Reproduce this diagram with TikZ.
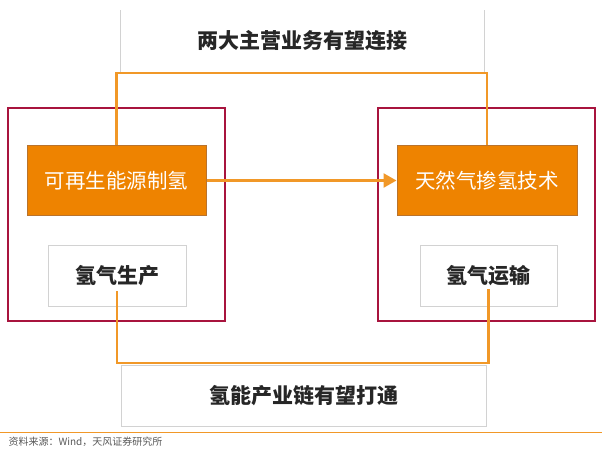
\documentclass[tikz,border=0pt]{standalone}
\usepackage{fontspec}
\setmainfont{Noto Sans CJK SC}
\usepackage{xcolor}
\usepackage{tikz}
\usetikzlibrary{arrows.meta}

\definecolor{hgorange}{RGB}{238,131,0}
\definecolor{hgline}{RGB}{241,152,40}
\definecolor{hgedge}{RGB}{185,115,45}
\definecolor{hgred}{RGB}{168,20,62}
\definecolor{hggrey}{RGB}{210,210,210}

\tikzset{
  orangebox/.style={draw=hgedge,fill=hgorange,line width=1pt,text=white,
    font=\fontsize{20.5}{24}\selectfont,minimum width=179pt,minimum height=70pt},
  greybox/.style={draw=hggrey,fill=white,line width=0.8pt,text=black!85,
    font=\bfseries\fontsize{21}{24}\selectfont,minimum width=138pt,minimum height=61pt},
  groupbox/.style={draw=hgred,line width=1.3pt},
  link/.style={draw=hgline,line width=2.5pt}
}

\begin{document}
\begin{tikzpicture}[x=1pt,y=-1pt]
\fill[white] (0,0) rectangle (602,451);
\useasboundingbox (0,0) rectangle (602,451);
% top caption
\draw[hggrey,line width=0.8pt] (120,10) -- (120,73) -- (484,73) -- (484,10);
\node[text=black!85,font=\bfseries\fontsize{21}{24}\selectfont] (title) at (302,41) {两大主营业务有望连接};
\coordinate (joinup) at (302,73);
% the two groups
\draw[groupbox] (8,108) rectangle (225,321);
\draw[groupbox] (378,108) rectangle (595,321);
\node[orangebox] (renew) at (116.5,180.5) {可再生能源制氢};
\node[orangebox,minimum width=180pt] (blend) at (487,180.5) {天然气掺氢技术};
\node[greybox] (produce) at (117,275.5) {氢气生产};
\node[greybox,minimum width=137pt] (ship) at (488.5,275.5) {氢气运输};
% bottom caption
\node[greybox,minimum width=365pt] (chain) at (303.5,395.5) {氢能产业链有望打通};
\coordinate (joindown) at (303,363);
% connectors
\draw[link] (renew.north) |- (joinup) -| (blend.north);
\draw[link,-{Triangle[length=13pt,width=14pt]}] (renew.east) -- (blend.west);
\draw[link] ([yshift=15pt]produce.south) |- (joindown) -| ([yshift=17pt]ship.south);
% source
\draw[hgline,line width=1pt] (0,432) -- (602,432);
\node[anchor=west,text=black!65,font=\fontsize{10}{12}\selectfont] (source) at (5,442) {资料来源：Wind，天风证券研究所};
\end{tikzpicture}
\end{document}
